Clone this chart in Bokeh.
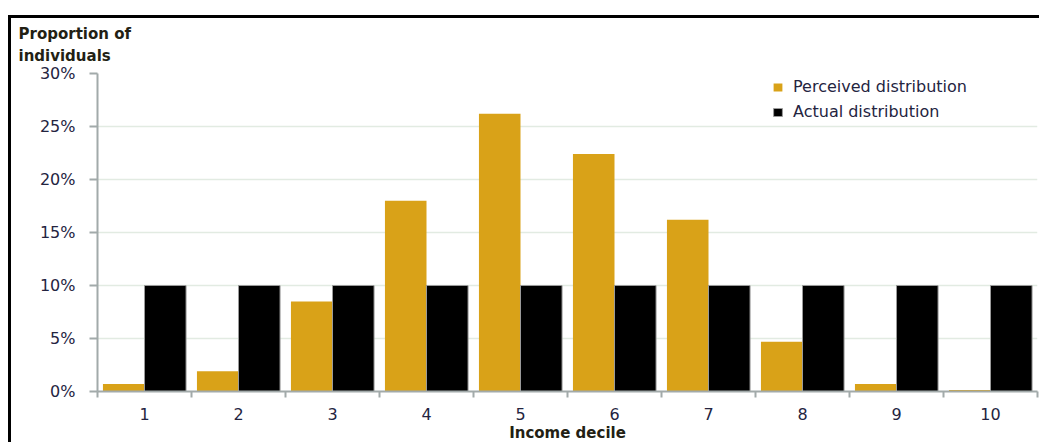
from bokeh.plotting import figure
from bokeh.models import (FixedTicker, PrintfTickFormatter, Legend,
                          LegendItem, Range1d, ColumnDataSource)
from bokeh.embed import file_html
from bokeh.resources import INLINE
from bokeh.transform import dodge

# ---- data ----
deciles = [1, 2, 3, 4, 5, 6, 7, 8, 9, 10]
decile_labels = ["1", "2", "3", "4", "5", "6", "7", "8", "9", "10"]
perceived = [0.7, 1.9, 8.5, 18.0, 26.2, 22.4, 16.2, 4.7, 0.7, 0.15]
actual = [10, 10, 10, 10, 10, 10, 10, 10, 10, 10]
y_ticks = [0, 5, 10, 15, 20, 25, 30]
series_names = ["Perceived distribution", "Actual distribution"]
y_title = "Proportion  of\nindividuals"
x_title = "Income decile"

GOLD = "#D9A218"
AXIS = "#A2AAAA"
GRID = "#E2EBE2"
TICK_TXT = "#24243F"
TITLE_TXT = "#231F14"
FONT = "DejaVu Sans"

src = ColumnDataSource(dict(x=deciles, perceived=perceived, actual=actual))

p = figure(frame_width=940, frame_height=318,
           min_border_left=86, min_border_right=2,
           min_border_top=55, min_border_bottom=51,
           x_range=Range1d(0.5, 10.5), y_range=Range1d(0, 30),
           output_backend="svg", toolbar_location=None,
           background_fill_color="white", border_fill_color="white")
p.outline_line_color = None
p.margin = (15, 0, 0, 8)
p.styles = {"border-left": "3px solid #000", "border-top": "3px solid #000"}

# top-left axis title via the plot title
p.title.text = y_title
p.title.align = "left"
p.title.vertical_align = "top"
p.title.offset = -79
p.title.standoff = 12
p.title.text_font = FONT
p.title.text_font_size = "15px"
p.title.text_font_style = "bold"
p.title.text_line_height = 1.26
p.title.text_color = TITLE_TXT

r1 = p.vbar(x=dodge("x", -0.221, range=p.x_range), top="perceived", width=0.442,
            source=src, fill_color=GOLD, line_color=None)
r2 = p.vbar(x=dodge("x", 0.221, range=p.x_range), top="actual", width=0.442,
            source=src, fill_color="black", line_color="#9A9A9A", line_width=1)

# grid
p.xgrid.visible = False
p.ygrid.ticker = FixedTicker(ticks=y_ticks)
p.ygrid.grid_line_color = GRID
p.ygrid.grid_line_width = 1.5

# y axis
ya = p.yaxis[0]
ya.ticker = FixedTicker(ticks=y_ticks)
ya.formatter = PrintfTickFormatter(format="%d%%")
ya.axis_line_color = AXIS
ya.axis_line_width = 2
ya.major_tick_line_color = AXIS
ya.major_tick_line_width = 2
ya.major_tick_out = 8
ya.major_tick_in = 0
ya.minor_tick_out = 0
ya.minor_tick_in = 0
ya.major_label_standoff = 14
ya.major_label_text_font = FONT
ya.major_label_text_font_size = "16px"
ya.major_label_text_color = TICK_TXT

# x axis
xa = p.xaxis[0]
xa.ticker = FixedTicker(ticks=deciles, minor_ticks=[d - 0.5 for d in deciles] + [10.5])
xa.major_label_overrides = {d: lab for d, lab in zip(deciles, decile_labels)}
xa.axis_line_color = AXIS
xa.axis_line_width = 2
xa.major_tick_out = 0
xa.major_tick_in = 0
xa.minor_tick_out = 6
xa.minor_tick_in = 0
xa.minor_tick_line_color = AXIS
xa.minor_tick_line_width = 2
xa.major_label_standoff = 10
xa.major_label_text_font = FONT
xa.major_label_text_font_size = "16px"
xa.major_label_text_color = TICK_TXT
xa.axis_label = x_title
xa.axis_label_standoff = 1
xa.axis_label_text_font = FONT
xa.axis_label_text_font_size = "15px"
xa.axis_label_text_font_style = "bold"
xa.axis_label_text_color = TITLE_TXT

legend = Legend(items=[LegendItem(label=series_names[0], renderers=[r1]),
                       LegendItem(label=series_names[1], renderers=[r2])],
                location=(675, 270), padding=0, margin=0, spacing=6,
                glyph_width=11, glyph_height=10, label_height=10,
                label_standoff=10, border_line_color=None,
                background_fill_alpha=0,
                label_text_font=FONT, label_text_font_size="16px",
                label_text_color=TICK_TXT)
p.add_layout(legend)

open("out.html", "w").write(file_html(p, INLINE))
